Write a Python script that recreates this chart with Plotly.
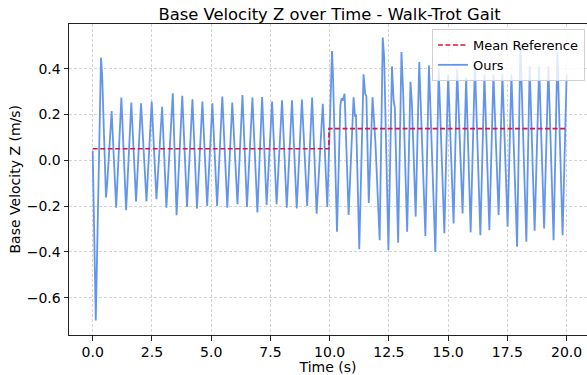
import plotly.graph_objects as go

# ---- data ----
time_s = [
    0.00, 0.13, 0.35, 0.40, 0.56, 0.61, 0.80, 0.92, 0.99, 1.21, 1.41, 1.63, 1.83,
    2.04, 2.27, 2.49, 2.69, 2.93, 3.11, 3.38, 3.54, 3.78, 3.98, 4.21, 4.40, 4.63,
    4.83, 5.05, 5.25, 5.47, 5.68, 5.89, 6.11, 6.32, 6.51, 6.74, 6.95, 7.15, 7.34,
    7.57, 7.76, 7.99, 8.19, 8.41, 8.61, 8.83, 9.05, 9.26, 9.45, 9.71, 9.90,
    10.10, 10.14, 10.31, 10.45, 10.50, 10.55, 10.63, 10.80, 10.86, 11.01, 11.07,
    11.11, 11.25, 11.43, 11.50, 11.55, 11.65, 11.81, 11.93, 12.11, 12.24, 12.30,
    12.48, 12.63, 12.70, 12.75, 12.89, 13.03, 13.10, 13.27, 13.41, 13.47, 13.63,
    13.78, 14.04, 14.19, 14.46, 14.60, 14.84, 15.00, 15.23, 15.38, 15.61, 15.76,
    15.95, 16.13, 16.36, 16.53, 16.74, 16.91, 17.13, 17.29, 17.51, 17.67, 17.91,
    18.05, 18.30, 18.44, 18.65, 18.84, 19.05, 19.23, 19.45, 19.61, 19.83, 20.00,
]
velocity_z = [
    0.040, -0.700, 0.448, 0.370, -0.163, -0.105, 0.215, -0.090, -0.207, 0.274,
    -0.218, 0.252, -0.180, 0.249, -0.180, 0.256, -0.170, 0.234, -0.207, 0.292,
    -0.240, 0.281, -0.204, 0.266, -0.211, 0.256, -0.199, 0.249, -0.199, 0.278,
    -0.207, 0.252, -0.192, 0.285, -0.204, 0.274, -0.228, 0.276, -0.195, 0.256,
    -0.192, 0.262, -0.207, 0.262, -0.211, 0.265, -0.199, 0.274, -0.233, 0.247,
    -0.204,
    0.477, 0.370, -0.312, 0.240, 0.270, 0.260, 0.290, -0.239, -0.090, 0.275,
    0.190, 0.200, -0.388, 0.375, 0.290, 0.280, -0.186, 0.275, 0.080, -0.349,
    0.536, 0.450, -0.393, 0.410, 0.260, 0.230, -0.360, 0.473, 0.300, -0.312,
    0.343, 0.250, -0.246, 0.429, -0.331, 0.414, -0.400, 0.400, -0.319, 0.375,
    -0.276, 0.397, -0.232, 0.360, -0.315, 0.420, -0.327, 0.375, -0.305, 0.375,
    -0.239, 0.375, -0.290, 0.375, -0.378, 0.507, -0.356, 0.410, -0.308, 0.410,
    -0.298, 0.410, -0.349, 0.475, -0.327, 0.375,
]
ref_time = [0.0, 9.97, 9.97, 20.0]
ref_mean = [0.050, 0.050, 0.138, 0.138]

x_ticks = [0.0, 2.5, 5.0, 7.5, 10.0, 12.5, 15.0, 17.5, 20.0]
x_tick_text = ["0.0", "2.5", "5.0", "7.5", "10.0", "12.5", "15.0", "17.5", "20.0"]
y_ticks = [-0.6, -0.4, -0.2, 0.0, 0.2, 0.4]
y_tick_text = ["\u22120.6", "\u22120.4", "\u22120.2", "0.0", "0.2", "0.4"]

FONT = "DejaVu Sans"

fig = go.Figure()
fig.add_trace(go.Scatter(
    x=time_s, y=velocity_z, mode="lines", name="Ours",
    line=dict(color="#6495ED", width=1.8), legendrank=2,
))
fig.add_trace(go.Scatter(
    x=ref_time, y=ref_mean, mode="lines", name="Mean Reference",
    line=dict(color="#DC143C", width=1.6, dash="5px,2.5px"), legendrank=1,
))

axis_common = dict(
    showline=True, linecolor="#222", linewidth=1,
    ticks="outside", ticklen=4.5, tickwidth=1, tickcolor="#222",
    showgrid=True, gridcolor="#d4d4d4", gridwidth=0.8, griddash="3px,2px",
    zeroline=False, tickfont=dict(family=FONT, size=14, color="#000"),
)

fig.update_layout(
    width=587, height=375,
    margin=dict(l=69, r=0, t=24, b=40),
    paper_bgcolor="white", plot_bgcolor="white",
    font=dict(family=FONT, color="#000"),
    title=dict(text="Base Velocity Z over Time - Walk-Trot Gait",
               font=dict(family=FONT, size=16.4, color="#000"),
               x=0.503, xref="paper", xanchor="center",
               y=1 - 14 / 375, yref="container", yanchor="middle"),
    xaxis=dict(range=[-1.0, 20.86], tickvals=x_ticks, ticktext=x_tick_text,
               mirror=True,
               title=dict(text="Time (s)", font=dict(family=FONT, size=14, color="#000"),
                          standoff=2),
               **axis_common),
    yaxis=dict(range=[-0.763, 0.595], tickvals=y_ticks, ticktext=y_tick_text,
               **axis_common),
    legend=dict(x=0.996, xanchor="right", y=0.984, yanchor="top",
                bgcolor="rgba(255,255,255,0.8)", bordercolor="#d0d0d0", borderwidth=1,
                font=dict(family=FONT, size=13, color="#000"), itemwidth=30,
                tracegroupgap=0),
    showlegend=True,
    annotations=[dict(
        text="Base Velocity Z (m/s)", textangle=-90,
        x=(14 - 69) / 518, xref="paper", xanchor="center",
        y=0.5, yref="paper", yanchor="middle", showarrow=False,
        font=dict(family=FONT, size=14, color="#000"),
    )],
)

fig.write_html("out.html")
